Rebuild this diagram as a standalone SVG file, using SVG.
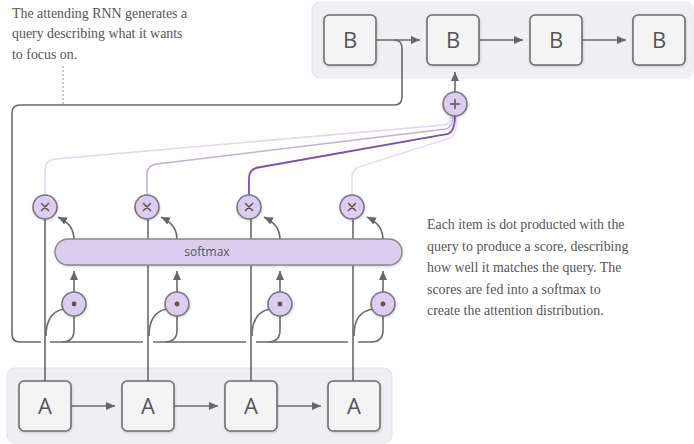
<svg xmlns="http://www.w3.org/2000/svg" width="694" height="444" viewBox="0 0 694 444">
<style>
.grp{fill:#efeff4;stroke:#e3e3ea;stroke-width:1}
.box{fill:#f4f4f5;stroke:#6e6e6e;stroke-width:1.6}
.lbl{font-family:"Open Sans","Liberation Sans",sans-serif;font-size:22px;fill:#555;text-anchor:middle}
.circ{fill:#dccdf0;stroke:#777;stroke-width:1.6}
.sym{stroke:#555;stroke-width:1.5;fill:none;stroke-linecap:round}
.ln{fill:none;stroke:#6a6a6a;stroke-width:1.6}
.note{font-family:"Liberation Serif","Times New Roman",serif;font-size:13.9px;fill:#555}
.sm{font-family:"Open Sans","Liberation Sans",sans-serif;font-size:12px;fill:#555;text-anchor:middle}
</style>
<defs>
<marker id="ah" markerUnits="userSpaceOnUse" markerWidth="10" markerHeight="10" viewBox="0 0 10 10" refX="9" refY="5" orient="auto">
<path d="M0,1 L9,5 L0,9 Z" fill="#666"/>
</marker>
<filter id="sh" x="-20%" y="-20%" width="140%" height="140%">
<feDropShadow dx="0.5" dy="1" stdDeviation="0.8" flood-color="#000" flood-opacity="0.18"/>
</filter>
</defs>

<!-- group backgrounds -->
<rect class="grp" x="312" y="2" width="381" height="76" rx="8"/>
<rect class="grp" x="7" y="368" width="385" height="75" rx="8"/>

<!-- annotations -->
<g id="note-query">
<text class="note" x="12" y="18">The attending RNN generates a</text>
<text class="note" x="12" y="38">query describing what it wants</text>
<text class="note" x="12" y="59">to focus on.</text>
</g>
<g id="note-score">
<text class="note" x="427" y="229">Each item is dot producted with the</text>
<text class="note" x="427" y="251">query to produce a score, describing</text>
<text class="note" x="427" y="272">how well it matches the query. The</text>
<text class="note" x="427" y="294">scores are fed into a softmax to</text>
<text class="note" x="427" y="315">create the attention distribution.</text>
</g>

<g id="connectors">
<!-- dotted annotation line -->
<path d="M63,66 L63,104" stroke="#999" stroke-width="1" stroke-dasharray="2,2" fill="none"/>
<!-- A chain vertical lines up to x nodes -->
<path class="ln" d="M45,381 V219"/>
<path class="ln" d="M148,381 V219"/>
<path class="ln" d="M251,381 V219"/>
<path class="ln" d="M353,381 V219"/>
<!-- query line -->
<path class="ln" d="M394,40 Q402,40 402,48 L402,97 Q402,105 394,105 L20,105 Q12,105 12,113 L12,334 Q12,342 20,342 L41,342"/>
<path class="ln" d="M50,342 H143"/>
<path class="ln" d="M153,342 H246"/>
<path class="ln" d="M256,342 H348"/>
<path class="ln" d="M358,342 H371 Q383,342 383,330 V316"/>
<path class="ln" d="M62,342 Q74,342 74,330 V316"/>
<path class="ln" d="M165,342 Q177,342 177,330 V316"/>
<path class="ln" d="M268,342 Q280,342 280,330 V316"/>
<!-- A lines into dot nodes -->
<path class="ln" d="M46,336 C46,318 53,311 64,309"/>
<path class="ln" d="M149,336 C149,318 156,311 167,309"/>
<path class="ln" d="M252,336 C252,318 259,311 270,309"/>
<path class="ln" d="M354,336 C354,318 361,311 373,309"/>
<!-- dot to softmax arrows -->
<path class="ln" d="M74,292 V271" marker-end="url(#ah)"/>
<path class="ln" d="M177,292 V271" marker-end="url(#ah)"/>
<path class="ln" d="M280,292 V271" marker-end="url(#ah)"/>
<path class="ln" d="M383,292 V271" marker-end="url(#ah)"/>
<!-- softmax to x arrows -->
<path class="ln" d="M74,240 C74,230 70,223 58,217" marker-end="url(#ah)"/>
<path class="ln" d="M177,240 C177,230 173,223 161,217" marker-end="url(#ah)"/>
<path class="ln" d="M280,240 C280,230 276,223 264,217" marker-end="url(#ah)"/>
<path class="ln" d="M383,240 C383,230 379,223 367,217" marker-end="url(#ah)"/>
<!-- x to + weighted lines -->
<path d="M45,195 V170 Q45,160 55,159 L444,125 Q451,124 451,116" fill="none" stroke="#e2d7f0" stroke-width="1.6"/>
<path d="M147,195 V174 Q147,165 157,164 L446,129 Q453,127 453,116" fill="none" stroke="#c4aee2" stroke-width="1.6"/>
<path d="M249,195 V178 Q249,168 261,167 L448,134 Q455,131 455,116" fill="none" stroke="#7a4fb8" stroke-width="1.8"/>
<path d="M352,195 V177 Q352,168 362,166 L450,138 Q457,135 457,116" fill="none" stroke="#e6def2" stroke-width="1.6"/>
<!-- + to B arrow -->
<path class="ln" d="M455,92 V72" marker-end="url(#ah)"/>
<!-- B chain arrows -->
<path class="ln" d="M376,40 H420" marker-end="url(#ah)"/>
<path class="ln" d="M479,40 H523" marker-end="url(#ah)"/>
<path class="ln" d="M582,40 H626" marker-end="url(#ah)"/>
<!-- A chain arrows -->
<path class="ln" d="M71,406 H115" marker-end="url(#ah)"/>
<path class="ln" d="M174,406 H218" marker-end="url(#ah)"/>
<path class="ln" d="M277,406 H321" marker-end="url(#ah)"/>
</g>

<!-- softmax bar -->
<g id="softmax">
<rect x="55" y="239" width="347" height="26" rx="13" fill="#dccdf0" stroke="#888" stroke-width="1.4" filter="url(#sh)"/>
<text class="sm" x="207" y="256">softmax</text>
</g>

<!-- B nodes -->
<g id="B1"><rect class="box" x="324" y="15" width="52" height="50" rx="5" filter="url(#sh)"/><text class="lbl" x="350" y="48">B</text></g>
<g id="B2"><rect class="box" x="427" y="15" width="52" height="50" rx="5" filter="url(#sh)"/><text class="lbl" x="453" y="48">B</text></g>
<g id="B3"><rect class="box" x="530" y="15" width="52" height="50" rx="5" filter="url(#sh)"/><text class="lbl" x="556" y="48">B</text></g>
<g id="B4"><rect class="box" x="633" y="15" width="52" height="50" rx="5" filter="url(#sh)"/><text class="lbl" x="659" y="48">B</text></g>

<!-- A nodes -->
<g id="A1"><rect class="box" x="19" y="381" width="52" height="50" rx="5" filter="url(#sh)"/><text class="lbl" x="45" y="414">A</text></g>
<g id="A2"><rect class="box" x="122" y="381" width="52" height="50" rx="5" filter="url(#sh)"/><text class="lbl" x="148" y="414">A</text></g>
<g id="A3"><rect class="box" x="225" y="381" width="52" height="50" rx="5" filter="url(#sh)"/><text class="lbl" x="251" y="414">A</text></g>
<g id="A4"><rect class="box" x="328" y="381" width="52" height="50" rx="5" filter="url(#sh)"/><text class="lbl" x="354" y="414">A</text></g>

<!-- plus node -->
<g id="plus"><circle class="circ" cx="455" cy="104" r="12" filter="url(#sh)"/><path class="sym" d="M450.5,104 H459.5 M455,99.5 V108.5"/></g>

<!-- multiply nodes -->
<g id="mul1"><circle class="circ" cx="45" cy="207" r="12" filter="url(#sh)"/><path class="sym" d="M41.5,203.5 L48.5,210.5 M48.5,203.5 L41.5,210.5"/></g>
<g id="mul2"><circle class="circ" cx="147" cy="207" r="12" filter="url(#sh)"/><path class="sym" d="M143.5,203.5 L150.5,210.5 M150.5,203.5 L143.5,210.5"/></g>
<g id="mul3"><circle class="circ" cx="249" cy="207" r="12" filter="url(#sh)"/><path class="sym" d="M245.5,203.5 L252.5,210.5 M252.5,203.5 L245.5,210.5"/></g>
<g id="mul4"><circle class="circ" cx="352" cy="207" r="12" filter="url(#sh)"/><path class="sym" d="M348.5,203.5 L355.5,210.5 M355.5,203.5 L348.5,210.5"/></g>

<!-- dot nodes -->
<g id="dot1"><circle class="circ" cx="74" cy="304" r="12" filter="url(#sh)"/><circle cx="74" cy="304" r="2.4" fill="#555"/></g>
<g id="dot2"><circle class="circ" cx="177" cy="304" r="12" filter="url(#sh)"/><circle cx="177" cy="304" r="2.4" fill="#555"/></g>
<g id="dot3"><circle class="circ" cx="280" cy="304" r="12" filter="url(#sh)"/><circle cx="280" cy="304" r="2.4" fill="#555"/></g>
<g id="dot4"><circle class="circ" cx="383" cy="304" r="12" filter="url(#sh)"/><circle cx="383" cy="304" r="2.4" fill="#555"/></g>
</svg>
